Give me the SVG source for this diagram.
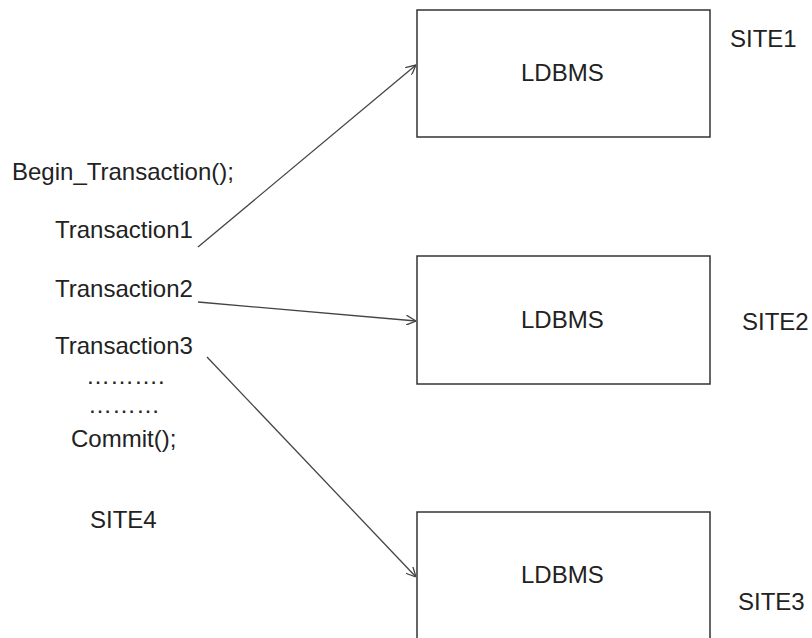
<svg xmlns="http://www.w3.org/2000/svg" width="812" height="638" viewBox="0 0 812 638">
<style>
text{font-family:"Liberation Sans",Arial,sans-serif;font-size:24px;fill:#222}
.box{fill:#fff;stroke:#333;stroke-width:1.5}
.conn{stroke:#444;stroke-width:1.3;fill:none;marker-end:url(#arr)}
</style>
<defs>
<marker id="arr" viewBox="0 0 10 10" refX="10" refY="5" markerWidth="10" markerHeight="10" markerUnits="userSpaceOnUse" orient="auto">
<path d="M0,0 L10,5 L0,10" fill="none" stroke="#444" stroke-width="1.3"/>
</marker>
</defs>
<rect width="812" height="638" fill="#fff"/>
<g id="site4">
<text x="12" y="180">Begin_Transaction();</text>
<text x="55" y="238">Transaction1</text>
<text x="55" y="297">Transaction2</text>
<text x="55" y="354">Transaction3</text>
<text x="86" y="384">……….</text>
<text x="88" y="413">………</text>
<text x="71" y="447">Commit();</text>
<text x="90" y="528">SITE4</text>
</g>
<g id="site1">
<rect class="box" x="417" y="10" width="293" height="127"/>
<text x="521" y="81">LDBMS</text>
<text x="730" y="47">SITE1</text>
</g>
<g id="site2">
<rect class="box" x="417" y="256" width="293" height="128"/>
<text x="521" y="328">LDBMS</text>
<text x="742" y="330">SITE2</text>
</g>
<g id="site3">
<rect class="box" x="417" y="512" width="293" height="140"/>
<text x="521" y="583">LDBMS</text>
<text x="738" y="610">SITE3</text>
</g>
<g id="connectors">
<line class="conn" x1="198" y1="247" x2="416" y2="65"/>
<line class="conn" x1="198" y1="302" x2="416" y2="321"/>
<line class="conn" x1="207" y1="357" x2="416" y2="577"/>
</g>
</svg>
